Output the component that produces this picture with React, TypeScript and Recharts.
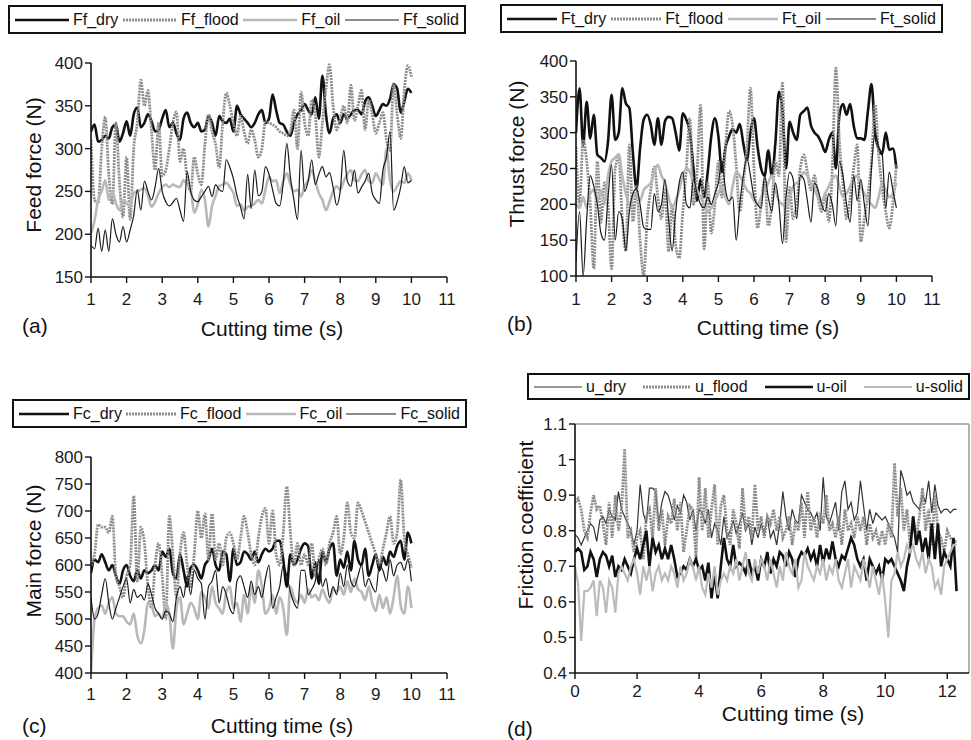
import { Line, LineChart, ReferenceLine, XAxis, YAxis } from 'recharts';

// cutting time (s), panels a-c
const T_ABC = [
  1, 1.1, 1.2, 1.3, 1.4, 1.5, 1.6, 1.7, 1.8, 1.9,
  2, 2.1, 2.2, 2.3, 2.4, 2.5, 2.6, 2.7, 2.8, 2.9,
  3, 3.1, 3.2, 3.3, 3.4, 3.5, 3.6, 3.7, 3.8, 3.9,
  4, 4.1, 4.2, 4.3, 4.4, 4.5, 4.6, 4.7, 4.8, 4.9,
  5, 5.1, 5.2, 5.3, 5.4, 5.5, 5.6, 5.7, 5.8, 5.9,
  6, 6.1, 6.2, 6.3, 6.4, 6.5, 6.6, 6.7, 6.8, 6.9,
  7, 7.1, 7.2, 7.3, 7.4, 7.5, 7.6, 7.7, 7.8, 7.9,
  8, 8.1, 8.2, 8.3, 8.4, 8.5, 8.6, 8.7, 8.8, 8.9,
  9, 9.1, 9.2, 9.3, 9.4, 9.5, 9.6, 9.7, 9.8, 9.9, 10,
];

// cutting time (s), panel d
const T_D = [
  0, 0.1, 0.2, 0.3, 0.4, 0.5, 0.6, 0.7, 0.8, 0.9,
  1, 1.1, 1.2, 1.3, 1.4, 1.5, 1.6, 1.7, 1.8, 1.9,
  2, 2.1, 2.2, 2.3, 2.4, 2.5, 2.6, 2.7, 2.8, 2.9,
  3, 3.1, 3.2, 3.3, 3.4, 3.5, 3.6, 3.7, 3.8, 3.9,
  4, 4.1, 4.2, 4.3, 4.4, 4.5, 4.6, 4.7, 4.8, 4.9,
  5, 5.1, 5.2, 5.3, 5.4, 5.5, 5.6, 5.7, 5.8, 5.9,
  6, 6.1, 6.2, 6.3, 6.4, 6.5, 6.6, 6.7, 6.8, 6.9,
  7, 7.1, 7.2, 7.3, 7.4, 7.5, 7.6, 7.7, 7.8, 7.9,
  8, 8.1, 8.2, 8.3, 8.4, 8.5, 8.6, 8.7, 8.8, 8.9,
  9, 9.1, 9.2, 9.3, 9.4, 9.5, 9.6, 9.7, 9.8, 9.9,
  10, 10.1, 10.2, 10.3, 10.4, 10.5, 10.6, 10.7, 10.8, 10.9,
  11, 11.1, 11.2, 11.3, 11.4, 11.5, 11.6, 11.7, 11.8, 11.9,
  12, 12.1, 12.2, 12.3,
];

// (a) feed force (N)
const FF_DRY = [
  320, 328, 308, 310, 315, 312, 325, 328, 308, 318,
  332, 315, 340, 348, 325, 330, 340, 332, 320, 322,
  335, 345, 325, 330, 318, 310, 335, 342, 330, 325,
  330, 320, 322, 338, 330, 315, 338, 332, 330, 335,
  320, 350, 340, 335, 330, 325, 330, 340, 345, 330,
  335, 363, 345, 330, 328, 320, 315, 330, 340, 345,
  352, 345, 340, 360, 335, 385, 340, 318, 335, 340,
  330, 340, 335, 340, 345, 345, 340, 355, 360, 350,
  338, 345, 352, 350, 358, 375, 370, 342, 355, 370, 365,
];
const FF_FLOOD = [
  310, 240, 236, 300, 337, 270, 235, 330, 260, 220,
  290, 217, 300, 330, 380, 350, 368, 320, 275, 330,
  268, 275, 300, 330, 343, 285, 300, 265, 250, 290,
  270, 258, 305, 340, 320, 305, 278, 330, 365, 350,
  330, 315, 338, 320, 306, 322, 310, 290, 300, 331,
  330, 328, 325, 320, 318, 315, 320, 345, 300, 366,
  330, 315, 357, 340, 290, 330, 370, 398, 350, 322,
  335, 350, 330, 374, 333, 350, 368, 322, 357, 340,
  318, 330, 342, 310, 298, 376, 340, 312, 368, 397, 384,
];
const FF_OIL = [
  201, 216, 240, 250, 263, 240, 250, 236, 228, 240,
  236, 233, 248, 250, 252, 254, 245, 232, 238, 248,
  255, 258, 255, 258, 256, 255, 263, 258, 252, 225,
  235, 252, 240, 209, 233, 245, 256, 258, 260, 255,
  248, 233, 235, 228, 232, 233, 236, 240, 236, 252,
  267, 262, 263, 248, 262, 271, 258, 250, 252, 244,
  256, 263, 275, 262, 248, 240, 228, 238, 250, 256,
  252, 262, 270, 275, 263, 262, 270, 275, 262, 260,
  271, 264, 258, 300, 262, 250, 256, 262, 260, 271, 263,
];
const FF_SOLID = [
  187, 183, 207, 180, 205, 180, 218, 200, 191, 209,
  191, 205, 222, 252, 228, 262, 250, 240, 255, 277,
  250, 238, 233, 237, 242, 228, 215, 273, 250, 240,
  238, 244, 250, 256, 244, 258, 252, 250, 287, 278,
  265, 245, 232, 218, 270, 230, 275, 245, 250, 279,
  270, 252, 236, 233, 260, 306, 267, 240, 217, 298,
  250, 262, 287, 258, 270, 279, 267, 272, 255, 234,
  250, 298, 262, 256, 275, 248, 255, 262, 271, 248,
  240, 236, 275, 290, 320, 228, 238, 255, 279, 260, 263,
];

// (b) thrust force (N)
const FT_DRY = [
  300, 362, 283, 343, 292, 325, 269, 265, 260, 288,
  353, 290, 300, 362, 341, 334, 270, 222, 278, 318,
  325, 311, 283, 320, 283, 316, 322, 320, 300, 275,
  327, 318, 300, 250, 205, 235, 210, 245, 295, 320,
  295, 245, 280, 295, 305, 300, 312, 285, 262, 300,
  320, 280, 250, 240, 275, 240, 285, 357, 330, 250,
  315, 300, 290, 325, 330, 335, 310, 300, 295, 285,
  273, 290, 300, 250, 325, 340, 325, 340, 310, 292,
  292, 290, 330, 368, 300, 278, 270, 300, 276, 278, 250,
];
const FT_FLOOD = [
  280, 200, 290, 260, 200, 110, 260, 175, 230, 200,
  110, 250, 265, 180, 135, 283, 176, 225, 150, 100,
  180, 220, 252, 210, 180, 220, 134, 200, 143, 125,
  190, 250, 320, 200, 245, 338, 138, 230, 160, 199,
  260, 210, 280, 330, 310, 255, 190, 230, 280, 362,
  250, 167, 200, 235, 170, 199, 260, 240, 369, 148,
  223, 180, 200, 250, 269, 245, 220, 240, 209, 190,
  215, 176, 250, 390, 287, 230, 180, 209, 250, 283,
  148, 180, 213, 260, 339, 270, 223, 190, 167, 200, 255,
];
const FT_OIL = [
  200, 195, 210, 195, 215, 220, 205, 220, 200, 240,
  260, 265, 270, 240, 215, 200, 210, 215, 205, 220,
  225, 230, 245, 255, 240, 230, 210, 195, 205, 220,
  240, 250, 245, 230, 220, 210, 200, 190, 195, 205,
  215, 225, 210, 200, 225, 245, 240, 230, 220, 215,
  205, 200, 210, 220, 230, 240, 220, 205, 200, 195,
  210, 225, 230, 235, 245, 240, 230, 220, 210, 205,
  215, 225, 235, 240, 225, 210, 215, 225, 235, 240,
  225, 215, 205, 200, 195, 210, 230, 220, 210, 215, 230,
];
const FT_SOLID = [
  120, 190, 100, 180, 240, 225, 200, 160, 150, 210,
  255, 150, 190, 180, 135, 190, 215, 222, 200, 168,
  165, 165, 215, 190, 200, 235, 180, 135, 190, 230,
  245, 200, 195, 235, 215, 200, 195, 210, 200, 215,
  230, 260, 220, 205, 210, 150, 200, 240, 265, 240,
  210, 200, 195, 240, 210, 190, 230, 200, 145, 210,
  245, 235, 180, 240, 235, 205, 175, 230, 220, 200,
  190, 215, 200, 170, 260, 240, 200, 175, 240, 205,
  235, 200, 170, 250, 300, 280, 270, 195, 245, 220, 195,
];

// (c) main force (N)
const FC_DRY = [
  585, 610, 605, 620, 605, 590, 600, 580, 565, 590,
  600, 580, 570, 590, 575, 590, 585, 590, 600, 590,
  625, 615, 630, 585, 575, 620, 590, 560, 595, 600,
  590, 575, 600, 610, 630, 600, 590, 625, 620, 570,
  630, 600, 605, 625, 620, 610, 625, 605, 620, 630,
  625, 630, 645, 645, 610, 560, 620, 600, 610, 630,
  640, 635, 575, 605, 565, 625, 605, 630, 640, 580,
  610, 595, 625, 590, 645, 610, 600, 630, 580, 600,
  620, 590, 615, 600, 625, 615, 635, 645, 610, 660, 640,
];
const FC_FLOOD = [
  600, 620, 675, 670, 670, 660, 690, 580, 560, 540,
  580, 600, 728, 570, 670, 640, 560, 520, 600, 640,
  580, 500, 690, 620, 540, 620, 660, 600, 560, 620,
  700, 650, 695, 610, 695, 610, 640, 600, 650, 660,
  640, 610, 650, 690, 660, 620, 600, 650, 690, 705,
  640, 700, 620, 600, 660, 745, 660, 600, 640, 600,
  620, 600, 640, 580, 610, 630, 600, 640, 660, 690,
  620, 650, 715, 660, 650, 715, 700, 680, 660, 640,
  620, 600, 630, 660, 690, 640, 660, 758, 650, 620, 595,
];
const FC_OIL = [
  400, 500, 520, 525, 510, 530, 540, 510, 505, 505,
  495, 490, 510, 470, 455, 480, 530, 525, 505, 510,
  500, 530, 510, 445, 520, 540, 490, 510, 530, 520,
  500, 550, 540, 520, 560, 530, 520, 510, 550, 560,
  520, 530, 495, 545, 510, 560, 530, 590, 560, 510,
  520, 545, 510, 540, 520, 470, 560, 540, 530, 545,
  530, 555, 540, 545, 535, 555, 540, 530, 555, 550,
  560, 545, 570, 550, 575, 555, 550, 535, 560, 530,
  515, 545, 520, 540, 510, 540, 580, 525, 510, 560, 520,
];
const FC_SOLID = [
  540, 500, 510, 545, 575, 530, 500, 520, 540, 560,
  575, 530, 555, 540, 545, 535, 565, 545, 520, 510,
  500, 515, 510, 495, 540, 560, 540, 580, 545, 590,
  575, 565, 500, 560, 570, 590, 530, 560, 545, 520,
  510, 570, 580, 560, 540, 570, 545, 560, 540, 575,
  600, 520, 540, 560, 600, 580, 550, 530, 520, 590,
  590, 545, 555, 570, 610, 560, 575, 540, 560, 545,
  585, 560, 600, 570, 560, 580, 600, 560, 575, 560,
  550, 600, 590, 570, 610, 580, 600, 605, 590, 610, 570,
];

// (d) friction coefficient
const U_DRY = [
  0.79, 0.78, 0.76, 0.78, 0.80, 0.82, 0.81, 0.77, 0.83, 0.84,
  0.82, 0.86, 0.84, 0.83, 0.91, 0.86, 0.84, 0.82, 0.80, 0.76,
  0.80, 0.93, 0.85, 0.82, 0.92, 0.92, 0.91, 0.82, 0.88, 0.91,
  0.90, 0.87, 0.83, 0.87, 0.85, 0.90, 0.88, 0.83, 0.86, 0.80,
  0.86, 0.85, 0.82, 0.86, 0.78, 0.82, 0.80, 0.76, 0.84, 0.78,
  0.80, 0.83, 0.79, 0.82, 0.85, 0.80, 0.82, 0.76, 0.81, 0.78,
  0.82, 0.79, 0.84, 0.78, 0.80, 0.76, 0.82, 0.91, 0.84, 0.80,
  0.86, 0.83, 0.82, 0.90, 0.88, 0.86, 0.85, 0.83, 0.85, 0.80,
  0.95, 0.84, 0.82, 0.85, 0.88, 0.80, 0.91, 0.94, 0.86, 0.88,
  0.83, 0.85, 0.94, 0.87, 0.80, 0.86, 0.82, 0.85, 0.84, 0.83,
  0.84, 0.82, 0.80, 0.78, 0.74, 0.97, 0.94, 0.90, 0.91, 0.88,
  0.87, 0.86, 0.90, 0.88, 0.94, 0.85, 0.93, 0.87, 0.85, 0.86,
  0.86, 0.85, 0.86, 0.86,
];
const U_FLOOD = [
  0.88, 0.89, 0.86, 0.80, 0.78, 0.85, 0.90, 0.86, 0.87, 0.82,
  0.76, 0.88, 0.78, 0.90, 0.80, 0.86, 1.03, 0.78, 0.80, 0.74,
  0.78, 0.80, 0.72, 0.84, 0.86, 0.78, 0.92, 0.80, 0.86, 0.76,
  0.84, 0.82, 0.89, 0.80, 0.88, 0.74, 0.80, 0.87, 0.86, 0.72,
  0.95, 0.80, 0.92, 0.78, 0.86, 0.93, 0.76, 0.87, 0.90, 0.80,
  0.76, 0.86, 0.82, 0.75, 0.92, 0.80, 0.84, 0.78, 0.93, 0.80,
  0.84, 0.78, 0.84, 0.82, 0.86, 0.80, 0.84, 0.78, 0.80, 0.84,
  0.76, 0.82, 0.80, 0.88, 0.78, 0.91, 0.80, 0.84, 0.78, 0.85,
  0.82, 0.90, 0.80, 0.82, 0.78, 0.84, 0.76, 0.86, 0.80, 0.82,
  0.78, 0.84, 0.80, 0.84, 0.76, 0.82, 0.78, 0.80, 0.76, 0.80,
  0.76, 0.82, 0.78, 0.99, 0.84, 0.92, 0.80, 0.86, 0.76, 0.84,
  0.78, 0.84, 0.92, 0.80, 0.86, 0.76, 0.90, 0.80, 0.78, 0.74,
  0.80, 0.78, 0.77, 0.77,
];
const U_OIL = [
  0.74, 0.75, 0.74, 0.69, 0.70, 0.74, 0.72, 0.67, 0.72, 0.74,
  0.73, 0.70, 0.73, 0.67, 0.70, 0.69, 0.72, 0.70, 0.68, 0.72,
  0.75, 0.72, 0.76, 0.80, 0.70, 0.78, 0.74, 0.76, 0.72, 0.75,
  0.72, 0.76, 0.72, 0.67, 0.68, 0.70, 0.69, 0.72, 0.70, 0.72,
  0.69, 0.70, 0.66, 0.71, 0.61, 0.68, 0.61, 0.70, 0.78, 0.72,
  0.70, 0.76, 0.70, 0.71, 0.70, 0.68, 0.72, 0.68, 0.70, 0.66,
  0.72, 0.70, 0.74, 0.68, 0.72, 0.70, 0.74, 0.73, 0.70, 0.74,
  0.72, 0.67, 0.72, 0.74, 0.73, 0.75, 0.72, 0.74, 0.70, 0.76,
  0.71, 0.75, 0.72, 0.77, 0.72, 0.70, 0.73, 0.72, 0.75, 0.78,
  0.76, 0.72, 0.70, 0.72, 0.66, 0.72, 0.70, 0.68, 0.70, 0.66,
  0.72, 0.71, 0.72, 0.70, 0.68, 0.66, 0.63, 0.70, 0.74, 0.84,
  0.76, 0.80, 0.74, 0.78, 0.72, 0.82, 0.72, 0.82, 0.70, 0.74,
  0.72, 0.70, 0.78, 0.63,
];
const U_SOLID = [
  0.70, 0.65, 0.49, 0.63, 0.63, 0.64, 0.66, 0.56, 0.66, 0.64,
  0.57, 0.66, 0.64, 0.57, 0.68, 0.70, 0.68, 0.66, 0.70, 0.72,
  0.68, 0.62, 0.70, 0.66, 0.70, 0.63, 0.68, 0.70, 0.66, 0.68,
  0.66, 0.70, 0.68, 0.64, 0.70, 0.66, 0.68, 0.72, 0.70, 0.66,
  0.70, 0.64, 0.62, 0.68, 0.64, 0.70, 0.62, 0.66, 0.68, 0.66,
  0.70, 0.68, 0.72, 0.66, 0.70, 0.74, 0.68, 0.66, 0.72, 0.68,
  0.72, 0.70, 0.66, 0.72, 0.68, 0.64, 0.70, 0.66, 0.74, 0.70,
  0.68, 0.72, 0.64, 0.66, 0.74, 0.70, 0.68, 0.66, 0.70, 0.68,
  0.72, 0.66, 0.70, 0.68, 0.72, 0.66, 0.64, 0.68, 0.72, 0.64,
  0.70, 0.68, 0.66, 0.72, 0.68, 0.64, 0.70, 0.66, 0.62, 0.68,
  0.60, 0.50, 0.66, 0.68, 0.74, 0.70, 0.72, 0.76, 0.74, 0.76,
  0.72, 0.70, 0.74, 0.68, 0.72, 0.70, 0.64, 0.66, 0.62, 0.70,
  0.72, 0.74, 0.76, 0.76,
];

const TICKS_X_ABC = [1, 2, 3, 4, 5, 6, 7, 8, 9, 10, 11];
const TICKS_X_D = [0, 2, 4, 6, 8, 10, 12];
const TICKS_FF = [150, 200, 250, 300, 350, 400];
const TICKS_FT = [100, 150, 200, 250, 300, 350, 400];
const TICKS_FC = [400, 450, 500, 550, 600, 650, 700, 750, 800];
const TICKS_U = [0.4, 0.5, 0.6, 0.7, 0.8, 0.9, 1, 1.1];

// line looks
const THICK_BLACK = { stroke: '#111', width: 2.6 };
const TEXTURED = { stroke: '#8c8c8c', width: 2.8, dash: '2 1' };
const LIGHT = { stroke: '#b8b8b8', width: 2.6 };
const THIN_BLACK = { stroke: '#1a1a1a', width: 1.2 };
const THIN_DARK = { stroke: '#333', width: 1.2 };
const LIGHT_D = { stroke: '#bbbbbb', width: 2.2 };

type Look = { stroke: string; width: number; dash?: string };
type Series = { key: string; name: string; values: number[]; look: Look };

interface PanelCfg {
  left: number;
  top: number;
  width: number;
  height: number;
  margin: { top: number; right: number; bottom: number; left: number };
  times: number[];
  series: Series[];
  xDomain: [number, number];
  xTicks: number[];
  yDomain: [number, number];
  yTicks: number[];
  tickMarginX: number;
  curve: 'monotone' | 'linear';
  frame?: boolean;
  legend: { left: number; top: number; width: number; height: number; sample: number };
  yTitle: string;
  yTitlePos: [number, number];
  xTitlePos: [number, number];
  letter: string;
  letterPos: [number, number];
}

const PANELS: PanelCfg[] = [
  {
    left: 0, top: 0, width: 485, height: 370,
    margin: { top: 63, right: 38, bottom: 63, left: 41 },
    times: T_ABC,
    series: [
      { key: 'dry', name: 'Ff_dry', values: FF_DRY, look: THICK_BLACK },
      { key: 'flood', name: 'Ff_flood', values: FF_FLOOD, look: TEXTURED },
      { key: 'oil', name: 'Ff_oil', values: FF_OIL, look: LIGHT },
      { key: 'solid', name: 'Ff_solid', values: FF_SOLID, look: THIN_BLACK },
    ],
    xDomain: [1, 11], xTicks: TICKS_X_ABC, yDomain: [150, 400], yTicks: TICKS_FF,
    tickMarginX: 10, curve: 'monotone',
    legend: { left: 8, top: 5, width: 458, height: 29, sample: 54 },
    yTitle: 'Feed force (N)', yTitlePos: [33, 165], xTitlePos: [272, 328],
    letter: '(a)', letterPos: [22, 325],
  },
  {
    left: 485, top: 0, width: 486, height: 370,
    margin: { top: 61, right: 39, bottom: 64, left: 41 },
    times: T_ABC,
    series: [
      { key: 'dry', name: 'Ft_dry', values: FT_DRY, look: THICK_BLACK },
      { key: 'flood', name: 'Ft_flood', values: FT_FLOOD, look: TEXTURED },
      { key: 'oil', name: 'Ft_oil', values: FT_OIL, look: LIGHT },
      { key: 'solid', name: 'Ft_solid', values: FT_SOLID, look: THIN_BLACK },
    ],
    xDomain: [1, 11], xTicks: TICKS_X_ABC, yDomain: [100, 400], yTicks: TICKS_FT,
    tickMarginX: 11, curve: 'monotone',
    legend: { left: 500, top: 4, width: 443, height: 29, sample: 50 },
    yTitle: 'Thrust force (N)', yTitlePos: [516, 154], xTitlePos: [768, 327],
    letter: '(b)', letterPos: [507, 323],
  },
  {
    left: 0, top: 370, width: 485, height: 370,
    margin: { top: 87, right: 38, bottom: 37, left: 41 },
    times: T_ABC,
    series: [
      { key: 'dry', name: 'Fc_dry', values: FC_DRY, look: THICK_BLACK },
      { key: 'flood', name: 'Fc_flood', values: FC_FLOOD, look: TEXTURED },
      { key: 'oil', name: 'Fc_oil', values: FC_OIL, look: LIGHT },
      { key: 'solid', name: 'Fc_solid', values: FC_SOLID, look: THIN_BLACK },
    ],
    xDomain: [1, 11], xTicks: TICKS_X_ABC, yDomain: [400, 800], yTicks: TICKS_FC,
    tickMarginX: 9, curve: 'monotone',
    legend: { left: 12, top: 399, width: 455, height: 29, sample: 50 },
    yTitle: 'Main force (N)', yTitlePos: [33, 551], xTitlePos: [282, 725],
    letter: '(c)', letterPos: [22, 725],
  },
  {
    left: 485, top: 370, width: 486, height: 370,
    margin: { top: 54, right: 2, bottom: 37, left: 40 },
    times: T_D,
    series: [
      { key: 'dry', name: 'u_dry', values: U_DRY, look: THIN_DARK },
      { key: 'flood', name: 'u_flood', values: U_FLOOD, look: TEXTURED },
      { key: 'oil', name: 'u-oil', values: U_OIL, look: THICK_BLACK },
      { key: 'solid', name: 'u-solid', values: U_SOLID, look: LIGHT_D },
    ],
    xDomain: [0, 12.7], xTicks: TICKS_X_D, yDomain: [0.4, 1.1], yTicks: TICKS_U,
    tickMarginX: 6, curve: 'linear', frame: true,
    legend: { left: 527, top: 373, width: 443, height: 27, sample: 48 },
    yTitle: 'Friction coefficient', yTitlePos: [525, 525], xTitlePos: [793, 713],
    letter: '(d)', letterPos: [507, 728],
  },
];

const INK = '#111';
const tickStyle = { fill: '#1a1a1a', fontSize: 17 };

function LegendBox({ cfg }: { cfg: PanelCfg }) {
  const b = cfg.legend;
  return (
    <div
      style={{
        position: 'absolute', left: b.left, top: b.top, width: b.width, height: b.height,
        boxSizing: 'border-box', border: `2px solid ${INK}`, display: 'flex',
        alignItems: 'center', justifyContent: 'space-between', padding: '0 5px',
        fontSize: 16, color: INK, lineHeight: 1,
      }}
    >
      {cfg.series.map((s) => (
        <div key={s.key} style={{ display: 'flex', alignItems: 'center' }}>
          <svg width={b.sample} height={8}>
            <line x1={0} y1={4} x2={b.sample} y2={4} stroke={s.look.stroke} strokeWidth={s.look.width} strokeDasharray={s.look.dash} />
          </svg>
          <span style={{ marginLeft: 4 }}>{s.name}</span>
        </div>
      ))}
    </div>
  );
}

function Panel({ cfg }: { cfg: PanelCfg }) {
  // one row per time sample, one column per series
  const rows = cfg.times.map((t, i) => {
    const r: Record<string, number> = { t };
    cfg.series.forEach((s) => { r[s.key] = s.values[i]; });
    return r;
  });

  return (
    <>
      <div style={{ position: 'absolute', left: cfg.left, top: cfg.top }}>
        <LineChart width={cfg.width} height={cfg.height} data={rows} margin={cfg.margin}>
          <XAxis
            dataKey="t" type="number" domain={cfg.xDomain} ticks={cfg.xTicks} interval={0}
            allowDataOverflow height={30} tickSize={6} tickMargin={cfg.tickMarginX}
            axisLine={{ stroke: INK, strokeWidth: 1.6 }} tickLine={{ stroke: INK, strokeWidth: 1.4 }} tick={tickStyle}
          />
          <YAxis
            type="number" domain={cfg.yDomain} ticks={cfg.yTicks} interval={0} allowDataOverflow
            width={50} tickSize={6} tickMargin={2}
            axisLine={{ stroke: INK, strokeWidth: 1.6 }} tickLine={{ stroke: INK, strokeWidth: 1.4 }} tick={tickStyle}
          />
          {cfg.frame && <ReferenceLine y={cfg.yDomain[1]} stroke="#999" strokeWidth={1.5} />}
          {cfg.frame && <ReferenceLine x={cfg.xDomain[1]} stroke="#999" strokeWidth={1.5} />}
          {cfg.series.map((s) => (
            <Line
              key={s.key} dataKey={s.key} name={s.name} type={cfg.curve}
              stroke={s.look.stroke} strokeWidth={s.look.width} strokeDasharray={s.look.dash}
              dot={false} activeDot={false} isAnimationActive={false}
            />
          ))}
        </LineChart>
      </div>
      <LegendBox cfg={cfg} />
      <div
        style={{
          position: 'absolute', left: cfg.yTitlePos[0], top: cfg.yTitlePos[1], fontSize: 21, color: INK,
          whiteSpace: 'nowrap', transform: 'translate(-50%, -50%) rotate(-90deg)', lineHeight: 1,
        }}
      >
        {cfg.yTitle}
      </div>
      <div
        style={{
          position: 'absolute', left: cfg.xTitlePos[0], top: cfg.xTitlePos[1], fontSize: 21, color: INK,
          whiteSpace: 'nowrap', transform: 'translate(-50%, -50%)', lineHeight: 1,
        }}
      >
        Cutting time (s)
      </div>
      <div
        style={{
          position: 'absolute', left: cfg.letterPos[0], top: cfg.letterPos[1], fontSize: 21, color: INK,
          transform: 'translateY(-50%)', lineHeight: 1,
        }}
      >
        {cfg.letter}
      </div>
    </>
  );
}

export default function App() {
  return (
    <div
      style={{
        position: 'absolute', left: 0, top: 0, width: 971, height: 740, background: '#fff', overflow: 'hidden',
        fontFamily: '"Liberation Sans", Arial, Helvetica, sans-serif',
      }}
    >
      {PANELS.map((p) => (
        <Panel key={p.letter} cfg={p} />
      ))}
    </div>
  );
}
